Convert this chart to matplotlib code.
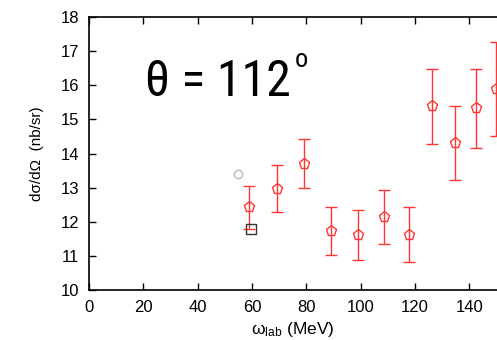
import numpy as np
import matplotlib
matplotlib.use('Agg')
import matplotlib.pyplot as plt

# data
omega = [59.0, 69.3, 79.3, 89.2, 98.9, 108.5, 117.7, 126.4, 134.8, 142.5, 149.7]
xsec = [12.43, 12.97, 13.70, 11.73, 11.60, 12.15, 11.61, 15.38, 14.31, 15.33, 15.89]
err_hi = [13.05, 13.66, 14.43, 12.43, 12.34, 12.93, 12.43, 16.49, 15.40, 16.47, 17.28]
err_lo = [11.80, 12.30, 12.98, 11.04, 10.88, 11.35, 10.82, 14.27, 13.23, 14.17, 14.51]

circ_x, circ_y = [54.8], [13.40]
sq_x, sq_y = [59.6], [11.79]

xticks = [0, 20, 40, 60, 80, 100, 120, 140]
yticks = [10, 11, 12, 13, 14, 15, 16, 17, 18]

plt.rcParams['font.family'] = ['Liberation Sans', 'DejaVu Sans']
plt.rcParams['mathtext.fontset'] = 'custom'
plt.rcParams['mathtext.rm'] = 'Liberation Sans'
plt.rcParams['mathtext.it'] = 'Liberation Sans'

fig = plt.figure(figsize=(4.97, 3.40), dpi=100)
ax = fig.add_axes([89/497, 50/340, (497-89)/497, 273/340])

xsec = np.array(xsec)
yerr = [xsec - np.array(err_lo), np.array(err_hi) - xsec]
ax.errorbar(omega, xsec, yerr=yerr, fmt='p', color='#ff3535', mfc='none',
            mec='#ff3535', ms=8, mew=1, elinewidth=1, capsize=4, capthick=1)
ax.plot(circ_x, circ_y, 'o', mfc='none', mec='#bbbbbb', ms=6, mew=1)
ax.plot(sq_x, sq_y, 's', mfc='none', mec='#333333', ms=7, mew=1)

ax.set_xlim(0, 150.2)
ax.set_ylim(10, 18)
ax.set_xticks(xticks)
ax.set_yticks(yticks)
ax.tick_params(direction='in', top=True, right=False, length=5, width=1,
               labelsize=12, pad=7)
ax.spines['right'].set_visible(False)
for s in ['left', 'bottom', 'top']:
    ax.spines[s].set_linewidth(1.2)

ax.set_ylabel('dσ/dΩ  (nb/sr)', fontsize=11, labelpad=12)
ax.set_xlabel('ω$_{\\rm lab}$ (MeV)', fontsize=12.5, labelpad=4)

ax.text(20.5, 16.1, 'θ = 112', fontsize=36,
        family=['Roboto Condensed', 'Liberation Sans'], va='center')
ax.text(75.6, 16.75, 'o', fontsize=19,
        family=['Roboto Condensed', 'Liberation Sans'], va='center')

fig.savefig('out.png', dpi=100)
